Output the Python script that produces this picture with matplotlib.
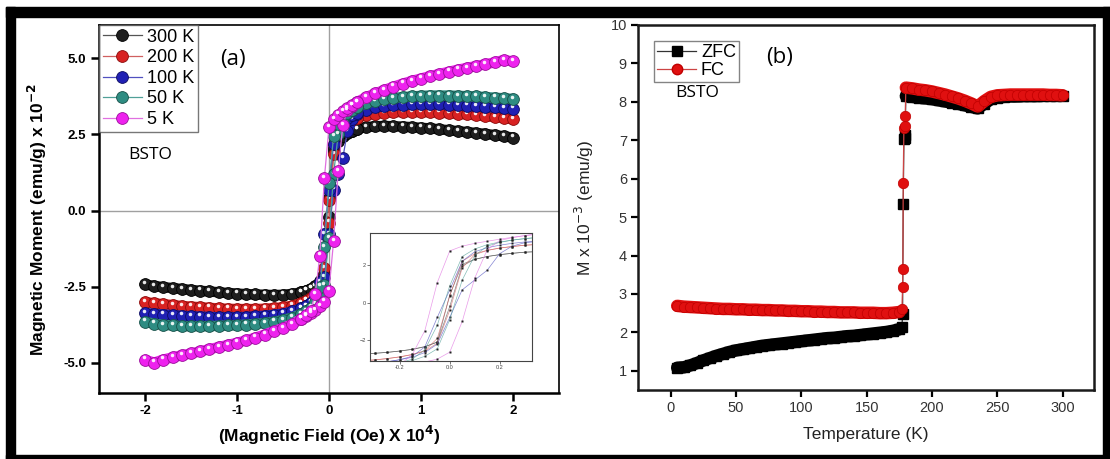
import matplotlib
matplotlib.use('Agg')
from matplotlib import pyplot as plt
from matplotlib.lines import Line2D
from matplotlib.patches import Rectangle
from matplotlib.transforms import offset_copy

plt.rcParams['font.family'] = ['Liberation Sans', 'DejaVu Sans']

# ---- (a) M-H loops, field in units of 10^4 Oe, moment in 10^-2 emu/g ----
field_neg = [-2.0, -1.9, -1.8, -1.7, -1.6, -1.5, -1.4, -1.3, -1.2, -1.1, -1.0,
             -0.9, -0.8, -0.7, -0.6, -0.5, -0.4]
field_loop = [-0.3, -0.25, -0.2, -0.15, -0.1, -0.05, 0.0, 0.05, 0.1, 0.15, 0.2, 0.25, 0.3]
field_pos = [0.4, 0.5, 0.6, 0.7, 0.8, 0.9, 1.0, 1.1, 1.2, 1.3, 1.4, 1.5, 1.6,
             1.7, 1.8, 1.9, 2.0]

m300_neg = [-2.43, -2.48, -2.52, -2.55, -2.58, -2.61, -2.64, -2.66, -2.69, -2.71, -2.73,
            -2.75, -2.76, -2.77, -2.78, -2.77, -2.74]
m300_up = [-2.69, -2.64, -2.57, -2.48, -2.33, -2.10, -0.20, 1.95, 2.30, 2.45, 2.55, 2.62, 2.68]
m300_down = [-2.69, -2.64, -2.57, -2.48, -2.35, -2.09, 0.41, 2.04, 2.30, 2.45, 2.55, 2.62, 2.68]
m300_pos = [2.74, 2.77, 2.78, 2.77, 2.76, 2.74, 2.72, 2.70, 2.67, 2.64, 2.61, 2.58, 2.55,
            2.52, 2.48, 2.44, 2.40]

m200_neg = [-3.01, -3.05, -3.08, -3.11, -3.14, -3.16, -3.18, -3.20, -3.22, -3.23, -3.24,
            -3.24, -3.24, -3.23, -3.21, -3.18, -3.13]
m200_up = [-3.04, -2.97, -2.88, -2.76, -2.58, -2.15, -0.40, 1.85, 2.55, 2.77, 2.90, 2.98, 3.05]
m200_down = [-3.04, -2.97, -2.88, -2.75, -2.55, -1.90, 0.36, 2.20, 2.60, 2.78, 2.90, 2.98, 3.05]
m200_pos = [3.13, 3.18, 3.21, 3.23, 3.24, 3.24, 3.24, 3.23, 3.22, 3.20, 3.18, 3.16, 3.13,
            3.10, 3.07, 3.04, 3.00]

m100_neg = [-3.37, -3.40, -3.42, -3.44, -3.46, -3.48, -3.49, -3.50, -3.51, -3.51, -3.51,
            -3.50, -3.48, -3.46, -3.43, -3.39, -3.32]
m100_up = [-3.21, -3.14, -3.03, -2.90, -2.65, -2.20, -0.78, 0.68, 1.20, 1.72, 2.60, 3.00, 3.18]
m100_down = [-3.21, -3.14, -3.03, -2.85, -2.35, -0.78, 0.68, 2.20, 2.70, 2.92, 3.05, 3.15, 3.22]
m100_pos = [3.32, 3.39, 3.43, 3.46, 3.48, 3.49, 3.50, 3.50, 3.49, 3.48, 3.47, 3.45, 3.43,
            3.41, 3.39, 3.37, 3.35]

m50_neg = [-3.66, -3.72, -3.76, -3.78, -3.80, -3.80, -3.80, -3.80, -3.79, -3.78, -3.77,
           -3.75, -3.73, -3.70, -3.66, -3.60, -3.52]
m50_up = [-3.40, -3.32, -3.22, -3.08, -2.85, -2.45, -0.90, 1.20, 2.50, 3.00, 3.20, 3.32, 3.40]
m50_down = [-3.40, -3.32, -3.20, -3.00, -2.50, -1.20, 0.90, 2.45, 2.85, 3.08, 3.22, 3.32, 3.40]
m50_pos = [3.52, 3.60, 3.66, 3.70, 3.73, 3.75, 3.77, 3.78, 3.78, 3.78, 3.77, 3.76, 3.75,
           3.73, 3.71, 3.69, 3.67]

m5_neg = [-4.91, -5.00, -4.90, -4.83, -4.76, -4.70, -4.63, -4.56, -4.49, -4.42, -4.35,
          -4.27, -4.18, -4.08, -3.97, -3.86, -3.74]
m5_up = [-3.56, -3.47, -3.38, -3.27, -3.15, -3.00, -2.63, -1.00, 1.30, 2.80, 3.30, 3.45, 3.56]
m5_down = [-3.56, -3.45, -3.30, -2.75, -1.49, 1.07, 2.75, 3.00, 3.15, 3.26, 3.37, 3.47, 3.56]
m5_pos = [3.72, 3.85, 3.96, 4.07, 4.17, 4.26, 4.34, 4.42, 4.49, 4.56, 4.63, 4.69, 4.75,
          4.81, 4.87, 4.95, 4.90]

temps = ['300 K', '200 K', '100 K', '50 K', '5 K']
ball_colors = ['#1e1e1e', '#d82222', '#2020b4', '#2e8c82', '#ee22ee']
ball_edges = ['#000000', '#8a0c0c', '#0c0c60', '#175048', '#9a109a']
line_colors = ['#555555', '#d06060', '#5050c0', '#50a098', '#e070e0']

# ---- (b) ZFC / FC magnetisation vs temperature ----
t_low = [5, 10, 15, 20, 25, 30, 35, 40, 45, 50, 55, 60, 65, 70, 75, 80, 85, 90, 95, 100,
         105, 110, 115, 120, 125, 130, 135, 140, 145, 150, 155, 160, 165, 170, 175]
zfc_low = [1.08, 1.09, 1.14, 1.20, 1.27, 1.33, 1.39, 1.44, 1.49, 1.53, 1.56, 1.59, 1.62,
           1.65, 1.67, 1.69, 1.71, 1.73, 1.75, 1.77, 1.79, 1.81, 1.83, 1.85, 1.86, 1.88,
           1.90, 1.91, 1.93, 1.95, 1.97, 1.99, 2.01, 2.04, 2.08]
fc_low = [2.69, 2.67, 2.66, 2.65, 2.64, 2.63, 2.62, 2.61, 2.61, 2.60, 2.60, 2.59, 2.59,
          2.58, 2.58, 2.57, 2.57, 2.56, 2.56, 2.55, 2.55, 2.54, 2.54, 2.53, 2.53, 2.52,
          2.52, 2.52, 2.51, 2.51, 2.51, 2.50, 2.50, 2.51, 2.53]

t_jump_zfc = [177.0, 177.5, 178.0, 178.5, 179.0, 179.5]
zfc_jump = [2.15, 2.47, 5.33, 7.03, 7.07, 7.15]
t_jump_fc = [177.0, 177.5, 177.7, 178.0, 178.5, 179.0, 179.5]
fc_jump = [2.60, 3.17, 3.65, 5.90, 7.33, 7.37, 7.63]

t_high = [180, 185, 190, 195, 200, 205, 210, 215, 220, 225, 230, 235, 240, 245, 250,
          255, 260, 265, 270, 275, 280, 285, 290, 295, 300]
zfc_high = [8.15, 8.13, 8.11, 8.09, 8.07, 8.04, 8.01, 7.98, 7.95, 7.91, 7.87, 7.83, 7.95,
            8.07, 8.11, 8.13, 8.14, 8.14, 8.15, 8.15, 8.15, 8.16, 8.16, 8.16, 8.16]
fc_high = [8.37, 8.35, 8.32, 8.30, 8.27, 8.23, 8.19, 8.14, 8.09, 8.03, 7.96, 7.88, 8.02,
           8.13, 8.17, 8.18, 8.19, 8.19, 8.19, 8.19, 8.19, 8.19, 8.18, 8.18, 8.17]

W, H = 1110, 459
fig = plt.figure(figsize=(W / 100, H / 100), dpi=100)
fig.patch.set_facecolor('white')


def px_box(x0, y0, x1, y1):
    # left, bottom, width, height in figure fraction from pixel corners
    return [x0 / W, 1 - y1 / H, (x1 - x0) / W, (y1 - y0) / H]


ax1 = fig.add_axes(px_box(99, 25, 559, 393))
ax2 = fig.add_axes(px_box(638, 25, 1094, 390))
ins = fig.add_axes(px_box(370, 233, 532, 361))


def spheres(ax, x, y, face, edge, size, z):
    ax.plot(x, y, 'o', ms=size, mfc=face, mec=edge, mew=0.6, ls='none', zorder=z)
    shine = offset_copy(ax.transData, fig=fig, x=-0.7, y=1.7, units='points')
    ax.plot(x, y, 'o', ms=size * 0.3, mfc='white', mec='none', alpha=0.9,
            ls='none', transform=shine, zorder=z + 0.5)


loops = [
    (m300_neg, m300_up, m300_down, m300_pos),
    (m200_neg, m200_up, m200_down, m200_pos),
    (m100_neg, m100_up, m100_down, m100_pos),
    (m50_neg, m50_up, m50_down, m50_pos),
    (m5_neg, m5_up, m5_down, m5_pos),
]

ax1.axhline(0, color='#a0a0a0', lw=1.0, zorder=1)
ax1.axvline(0, color='#a0a0a0', lw=1.0, zorder=1)

handles = []
for i, (mn, mu, md, mp) in enumerate(loops):
    z = 3 + 2 * i
    up_x = field_neg + field_loop + field_pos
    up_y = mn + mu + mp
    down_x = field_pos[::-1] + field_loop[::-1] + field_neg[::-1]
    down_y = mp[::-1] + md[::-1] + mn[::-1]
    ax1.plot(up_x, up_y, '-', color=line_colors[i], lw=0.9, zorder=z - 0.5)
    ax1.plot(down_x, down_y, '-', color=line_colors[i], lw=0.9, zorder=z - 0.5)
    # the high-field branches are packed so densely they read as a solid band
    ax1.plot(field_neg + field_loop[:3], mn + mu[:3], '-', color=ball_colors[i], lw=7.5,
             solid_capstyle='round', zorder=z - 0.3)
    ax1.plot(field_loop[-3:] + field_pos, mu[-3:] + mp, '-', color=ball_colors[i], lw=7.5,
             solid_capstyle='round', zorder=z - 0.3)
    spheres(ax1, field_neg + field_pos, mn + mp, ball_colors[i], ball_edges[i], 8.5, z)
    spheres(ax1, field_loop + field_loop, mu + md, ball_colors[i], ball_edges[i], 8.5, z)

    ins.plot(up_x, up_y, '-', color=line_colors[i], lw=0.5, alpha=0.7)
    ins.plot(down_x, down_y, '-', color=line_colors[i], lw=0.5, alpha=0.7)
    ins.plot(field_loop + field_loop, mu + md, 's', ms=2, color='#222222', mec='none')

    handles.append(Line2D([], [], color=line_colors[i], lw=0.9, marker='o', ms=8.5,
                          mfc=ball_colors[i], mec=ball_edges[i], mew=0.6, label=temps[i]))

ax1.set_xlim(-2.5, 2.5)
ax1.set_ylim(-6.0, 6.1)
ax1.set_xticks([-2, -1, 0, 1, 2])
ax1.set_xticklabels(['-2', '-1', '0', '1', '2'])
ax1.set_yticks([-5, -2.5, 0, 2.5, 5])
ax1.set_yticklabels(['-5.0', '-2.5', '0.0', '2.5', '5.0'])
ax1.tick_params(direction='out', length=6, width=1.8, labelsize=9.5, pad=3)
for lab in ax1.get_xticklabels() + ax1.get_yticklabels():
    lab.set_fontweight('bold')
for side in ['left', 'bottom']:
    ax1.spines[side].set_linewidth(1.8)
for side in ['top', 'right']:
    ax1.spines[side].set_linewidth(1.2)
ax1.set_xlabel(r'(Magnetic Field (Oe) X 10$^{\mathbf{4}}$)', fontsize=12.5, fontweight='bold')
ax1.set_ylabel(r'Magnetic Moment (emu/g) x 10$^{\mathbf{-2}}$', fontsize=12.5, fontweight='bold')
ax1.xaxis.set_label_coords(0.5, -0.085)
ax1.yaxis.set_label_coords(-0.108, 0.47)

leg1 = ax1.legend(handles=handles, loc='upper left', bbox_to_anchor=(0, 1), borderaxespad=0,
                  fontsize=13, frameon=True, fancybox=False, handlelength=2.2,
                  handletextpad=0.25, labelspacing=0.2, borderpad=0.2)
leg1.get_frame().set_edgecolor('#555555')
leg1.get_frame().set_linewidth(1.0)
leg1.set_zorder(20)

# inset: zoom on the low-field part of the loops
ins.set_xlim(-0.32, 0.33)
ins.set_ylim(-3.1, 3.7)
ins.set_xticks([-0.2, 0.0, 0.2])
ins.set_xticklabels(['-0.2', '0.0', '0.2'])
ins.set_yticks([-2, 0, 2])
ins.tick_params(labelsize=4, length=2, width=0.5, pad=1, colors='#444444')
for sp in ins.spines.values():
    sp.set_linewidth(0.8)
    sp.set_color('#444444')
ins.set_zorder(15)

# ---- panel (b) ----
zfc_t = t_low + t_jump_zfc + t_high
zfc_m = zfc_low + zfc_jump + zfc_high
fc_t = t_low + t_jump_fc + t_high
fc_m = fc_low + fc_jump + fc_high

ax2.plot(t_low, zfc_low, '-', color='black', lw=9, solid_capstyle='round', zorder=2)
ax2.plot(t_high, zfc_high, '-', color='black', lw=9, solid_capstyle='round', zorder=2)
ax2.plot(zfc_t, zfc_m, '-', color='#333333', lw=0.9, zorder=3)
ax2.plot(zfc_t, zfc_m, 's', ms=6.5, color='black', zorder=3)

ax2.plot(t_low, fc_low, '-', color='#e01010', lw=9, solid_capstyle='round', zorder=4)
ax2.plot(t_high, fc_high, '-', color='#e01010', lw=9, solid_capstyle='round', zorder=4)
ax2.plot(fc_t, fc_m, '-', color='#cc4444', lw=0.9, zorder=5)
ax2.plot(fc_t, fc_m, 'o', ms=7.5, mfc='#e01010', mec='#c00000', mew=0.5, zorder=5)

ax2.set_xlim(-25, 324)
ax2.set_ylim(0.5, 10)
ax2.set_xticks([0, 50, 100, 150, 200, 250, 300])
ax2.set_yticks([1, 2, 3, 4, 5, 6, 7, 8, 9, 10])
ax2.tick_params(direction='out', length=5, width=1.6, labelsize=10.5, pad=3,
                labelcolor='#333333')
for sp in ax2.spines.values():
    sp.set_linewidth(1.8)
    sp.set_color('#1a1a1a')
ax2.set_xlabel('Temperature (K)', fontsize=12.5, color='#222222')
ax2.set_ylabel(r'M x 10$^{-3}$ (emu/g)', fontsize=12.5, color='#222222')
ax2.xaxis.set_label_coords(0.5, -0.1)
ax2.yaxis.set_label_coords(-0.092, 0.5)

h_zfc = Line2D([], [], color='#333333', lw=0.9, marker='s', ms=6.5, mfc='black', mec='black',
               label='ZFC')
h_fc = Line2D([], [], color='#cc4444', lw=0.9, marker='o', ms=7.5, mfc='#e01010',
              mec='#c00000', label='FC')
leg2 = ax2.legend(handles=[h_zfc, h_fc], loc='upper left', bbox_to_anchor=(0.035, 0.955),
                  borderaxespad=0, fontsize=13, fancybox=False, handlelength=2.2,
                  handletextpad=0.25, labelspacing=0.05, borderpad=0.15)
leg2.get_frame().set_edgecolor('#666666')
leg2.get_frame().set_linewidth(1.0)

# panel tags and sample name
fig.text(233 / W, 1 - 60 / H, '(a)', fontsize=16, family='Open Sans', ha='center', va='center')
fig.text(780 / W, 1 - 57 / H, '(b)', fontsize=16, family='Open Sans', ha='center', va='center')
fig.text(150 / W, 1 - 155 / H, 'BSTO', fontsize=12.5, family='Open Sans', ha='center', va='center')
fig.text(697 / W, 1 - 93 / H, 'BSTO', fontsize=12.5, family='Open Sans', ha='center', va='center')

# black border round the whole figure
for x0, y0, x1, y1 in [(6, 7, 15, 459), (6, 7, 1110, 17), (1103, 7, 1110, 459), (6, 455, 1110, 459)]:
    fig.add_artist(Rectangle((x0 / W, 1 - y1 / H), (x1 - x0) / W, (y1 - y0) / H,
                             transform=fig.transFigure, color='black', zorder=30))

fig.savefig('out.png', dpi=100)
